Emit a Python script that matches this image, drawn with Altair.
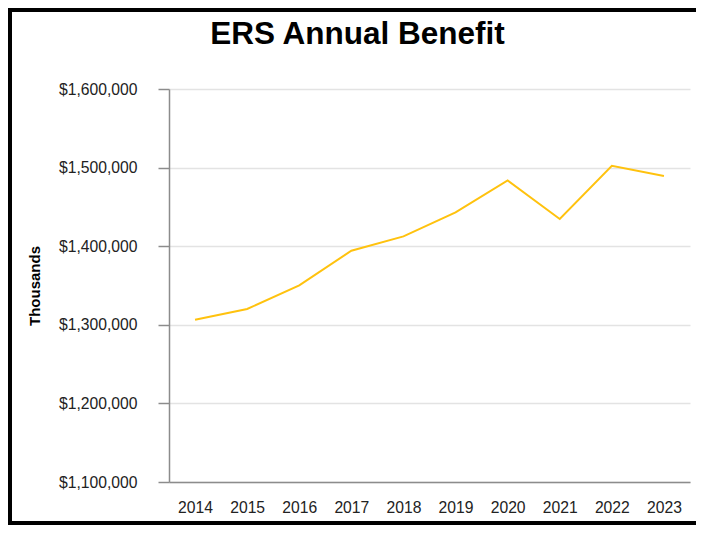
import altair as alt
import pandas as pd

years = ["2014", "2015", "2016", "2017", "2018", "2019", "2020", "2021", "2022", "2023"]
benefit = [1306500, 1320100, 1350100, 1394300, 1412500, 1443000, 1483700, 1434600, 1502400, 1489300]
y_ticks = [1100000, 1200000, 1300000, 1400000, 1500000, 1600000]
title_text = "ERS Annual Benefit"
y_title = "Thousands"

df = pd.DataFrame({"year": years, "benefit": benefit})
FONT = "Liberation Sans"

W, H = 521, 393
PL, PT = 161, 81
TOTAL_W, TOTAL_H = 688, 517
LFS = 15.7

line = alt.Chart(df).mark_line(color="#FFC20E", strokeWidth=2).encode(
    x=alt.X("year:O", sort=years,
            scale=alt.Scale(type="point", padding=0.5),
            axis=alt.Axis(title=None, labelAngle=0, ticks=False, grid=False,
                          domain=True, domainColor="#8c8c8c", domainWidth=1.5,
                          labelPadding=18, labelFontSize=LFS, labelColor="#222222",
                          labelFont=FONT)),
    y=alt.Y("benefit:Q",
            scale=alt.Scale(domain=[1100000, 1600000], nice=False, zero=False),
            axis=alt.Axis(values=y_ticks, format="$,.0f", title=y_title,
                          titleFont=FONT, titleFontSize=15, titleFontWeight="bold",
                          titleColor="#000000", titleAngle=-90,
                          titleX=-130, titleY=H / 2, titleBaseline="alphabetic",
                          titleAlign="center",
                          labelFont=FONT, labelFontSize=LFS, labelColor="#222222",
                          labelPadding=21, tickSize=11, tickColor="#8c8c8c",
                          tickWidth=1.5, domainColor="#8c8c8c", domainWidth=1.5,
                          grid=True, gridColor="#e3e3e3", gridWidth=1.5)),
)

one = pd.DataFrame({"k": [0]})

title = alt.Chart(one).mark_text(
    text=title_text, font=FONT, fontSize=31.5, fontWeight="bold",
    color="#000000", align="center", baseline="alphabetic"
).encode(x=alt.value(188.5), y=alt.value(-45.5))

border = alt.Chart(one).mark_rect(
    filled=False, stroke="#000000", strokeWidth=4, fill=None
).encode(
    x=alt.value(-PL + 2), x2=alt.value(TOTAL_W - PL + 10),
    y=alt.value(-PT + 2), y2=alt.value(TOTAL_H - PT - 2),
)

chart = alt.layer(line, title, border).properties(
    width=W, height=H,
    autosize=alt.AutoSizeParams(type="none"),
    padding={"left": PL, "top": PT, "right": TOTAL_W - PL - W, "bottom": TOTAL_H - PT - H},
    background="white",
).configure_view(stroke=None)

chart.save("out.html", embed_options={"renderer": "svg", "actions": False})
